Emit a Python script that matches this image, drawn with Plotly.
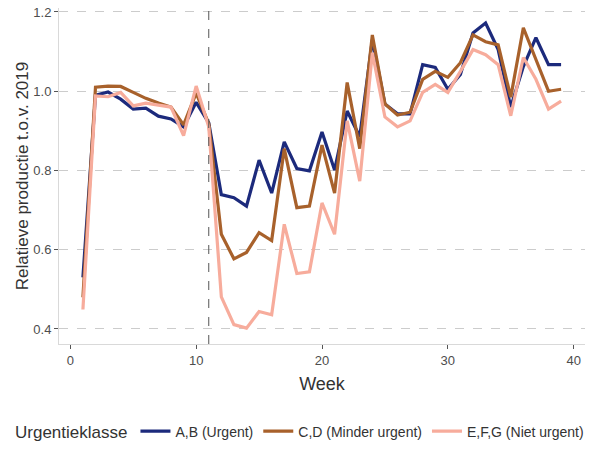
import plotly.graph_objects as go

weeks = list(range(1, 40))

ab_urgent = [0.53, 0.99, 0.998, 0.98, 0.955, 0.957, 0.937, 0.93, 0.91, 0.972,
             0.92, 0.739, 0.731, 0.71, 0.826, 0.743, 0.872, 0.805, 0.799, 0.897,
             0.801, 0.95, 0.885, 1.13, 0.968, 0.943, 0.943, 1.067, 1.06, 1.005,
             1.042, 1.147, 1.172, 1.105, 0.96, 1.062, 1.135, 1.067, 1.067]

cd_minder = [0.48, 1.01, 1.013, 1.012, 0.997, 0.982, 0.97, 0.96, 0.915, 0.995,
             0.918, 0.639, 0.577, 0.593, 0.643, 0.623, 0.855, 0.706, 0.71, 0.864,
             0.743, 1.022, 0.855, 1.142, 0.968, 0.94, 0.947, 1.03, 1.05, 1.035,
             1.072, 1.142, 1.125, 1.117, 0.985, 1.16, 1.08, 1.0, 1.005]

efg_niet = [0.449, 0.988, 0.986, 0.997, 0.963, 0.97, 0.965, 0.96, 0.888, 1.013,
            0.91, 0.481, 0.411, 0.402, 0.444, 0.436, 0.664, 0.54, 0.544, 0.718,
            0.639, 0.925, 0.773, 1.097, 0.935, 0.91, 0.925, 0.997, 1.017, 0.997,
            1.05, 1.105, 1.092, 1.067, 0.938, 1.085, 1.03, 0.955, 0.975]

series_names = ["A,B (Urgent)", "C,D (Minder urgent)", "E,F,G (Niet urgent)"]
series_values = [ab_urgent, cd_minder, efg_niet]
series_colors = ["#1C2A7C", "#A8612B", "#F7AC9C"]

x_ticks = [0, 10, 20, 30, 40]
y_ticks = [0.4, 0.6, 0.8, 1.0, 1.2]
y_tick_labels = ["0.4", "0.6", "0.8", "1.0", "1.2"]
lockdown_week = 11

font_family = "Liberation Sans, Arial, sans-serif"

fig = go.Figure()
for name, vals, col in zip(series_names, series_values, series_colors):
    fig.add_trace(go.Scatter(x=weeks, y=vals, mode="lines", name=name,
                             line=dict(color=col, width=3.2)))

fig.add_vline(x=lockdown_week, line=dict(color="#555555", width=1, dash="dash"))

fig.update_layout(
    width=589, height=453,
    margin=dict(l=59, r=4, t=8, b=105),
    paper_bgcolor="white", plot_bgcolor="white",
    font=dict(family=font_family, color="#4D4D4D", size=13),
    showlegend=True,
    legend=dict(orientation="h", x=0.475, xanchor="center", y=-0.262, yanchor="middle",
                title=dict(text="Urgentieklasse", font=dict(size=17, color="#333333")),
                font=dict(size=14, color="#333333"),
                itemwidth=30, tracegroupgap=0),
)

fig.update_xaxes(
    range=[-0.9, 40.9], tickvals=x_ticks, ticks="outside", ticklen=4,
    tickcolor="#555555", showgrid=False, zeroline=False,
    showline=True, linecolor="#D9D9D9", linewidth=1,
    title=dict(text="Week", font=dict(size=18, color="#333333"), standoff=10),
    tickfont=dict(size=13, color="#4D4D4D"),
)
fig.update_yaxes(
    range=[0.362, 1.21], tickvals=y_ticks, ticktext=y_tick_labels,
    ticks="outside", ticklen=4, tickcolor="#555555",
    showgrid=True, gridcolor="#CCCCCC", griddash="dash", gridwidth=1,
    zeroline=False, showline=True, linecolor="#D9D9D9", linewidth=1,
    title=dict(text="Relatieve productie t.o.v. 2019", font=dict(size=17, color="#333333"), standoff=0),
    tickfont=dict(size=13, color="#4D4D4D"),
)

fig.write_html("out.html", config={"displayModeBar": False},
               post_script="document.body.style.margin='0';document.body.style.overflow='hidden';")
